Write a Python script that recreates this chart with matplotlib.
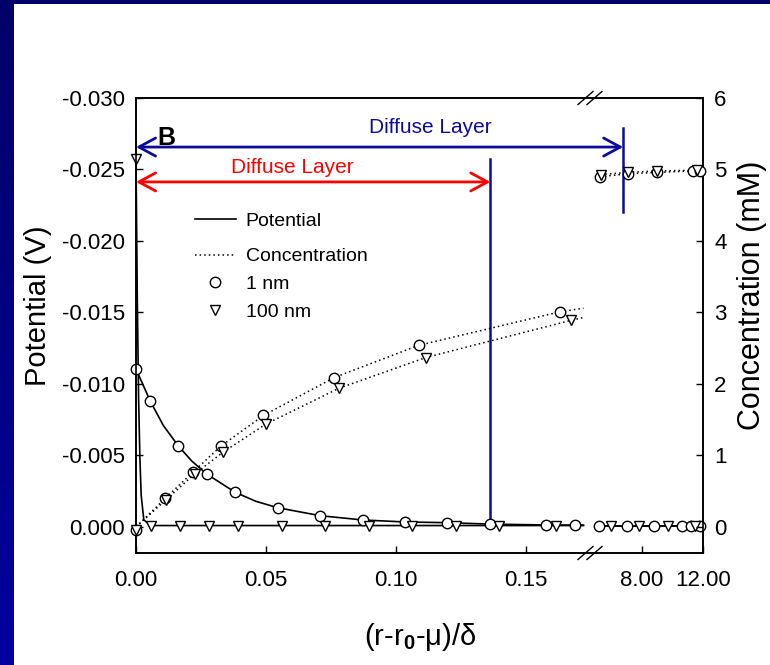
import numpy as np
import matplotlib
matplotlib.use('Agg')
import matplotlib.pyplot as plt
from matplotlib.lines import Line2D
from matplotlib.patches import FancyArrowPatch, ArrowStyle
from matplotlib.ticker import NullLocator, FixedLocator, FixedFormatter
from matplotlib.colors import LinearSegmentedColormap

plt.rcParams['font.family'] = ['Liberation Sans', 'DejaVu Sans']
plt.rcParams['mathtext.fontset'] = 'custom'
plt.rcParams['mathtext.rm'] = 'Liberation Sans'
plt.rcParams['mathtext.bf'] = 'Liberation Sans:bold'
plt.rcParams['mathtext.it'] = 'Liberation Sans:italic'

# ---------------- data ----------------
# Potential, 1 nm (V)
pot1_x = [0, 0.0054, 0.0163, 0.0272, 0.0381, 0.0544, 0.0708, 0.0871, 0.1035,
          0.1197, 0.1359, 0.1577, 0.1686, 5.2, 7.0, 8.8, 10.6, 11.2, 11.8]
pot1_y = [-0.01105, -0.00883, -0.00566, -0.0037, -0.00243, -0.00135, -0.00079,
          -0.00049, -0.00035, -0.0003, -0.0002, -0.00014, -0.00014, -0.00007,
          -0.00007, -0.00007, -0.00007, -0.00007, -0.00007]
pot1_curve_x = [0, 0.0054, 0.0105, 0.0163, 0.0215, 0.0272, 0.0381, 0.046, 0.0544,
                0.0708, 0.0871, 0.1035, 0.1197, 0.1359, 0.1577, 0.172, 5.0, 12.0]
pot1_curve_y = [-0.01105, -0.00883, -0.0071, -0.00566, -0.0046, -0.0037, -0.00243,
                -0.0018, -0.00135, -0.00079, -0.00049, -0.00035, -0.0003, -0.0002,
                -0.00014, -0.00013, -0.00007, -0.00007]

# Potential, 100 nm (V)
pot100_x = [0, 0.0056, 0.0169, 0.0279, 0.0391, 0.056, 0.0727, 0.0894, 0.106,
            0.123, 0.1394, 0.1615, 5.98, 7.8, 9.7, 11.5]
pot100_y = [-0.0257, -0.0001, -0.0001, -0.0001, -0.0001, -0.0001, -0.0001, -0.0001,
            -0.0001, -0.0001, -0.0001, -0.0001, -0.0001, -0.0001, -0.0001, -0.0001]
pot100_curve_x = [0, 0.0005, 0.001, 0.0015, 0.002, 0.003, 0.0056, 0.172, 5.0, 12.0]
pot100_curve_y = [-0.0257, -0.016, -0.009, -0.0048, -0.0022, -0.0005, -0.0001,
                  -0.0001, -0.0001, -0.0001]

# Concentration, 1 nm (mM)
conc1_x = [0, 0.0112, 0.022, 0.0326, 0.049, 0.0762, 0.1086, 0.163,
           5.26, 7.1, 9.0, 11.36, 11.82]
conc1_y = [-0.04, 0.40, 0.77, 1.13, 1.56, 2.09, 2.54, 3.01,
           4.90, 4.94, 4.96, 4.98, 4.98]
conc1_curve_x = [0, 0.0112, 0.022, 0.0326, 0.049, 0.0762, 0.1086, 0.163, 0.1727,
                 5.26, 7.1, 9.0, 11.36, 11.82]
conc1_curve_y = [0, 0.40, 0.77, 1.13, 1.56, 2.09, 2.54, 3.01, 3.06,
                 4.90, 4.94, 4.96, 4.98, 4.98]

# Concentration, 100 nm (mM)
conc100_x = [0, 0.0115, 0.0225, 0.0336, 0.050, 0.078, 0.1114, 0.1672,
             5.3, 7.1, 9.0, 11.6]
conc100_y = [-0.04, 0.38, 0.74, 1.05, 1.44, 1.94, 2.37, 2.89,
             4.93, 4.96, 4.98, 4.99]
conc100_curve_x = [0, 0.0115, 0.0225, 0.0336, 0.050, 0.078, 0.1114, 0.1672, 0.1727,
                   5.3, 7.1, 9.0, 11.6]
conc100_curve_y = [0, 0.38, 0.74, 1.05, 1.44, 1.94, 2.37, 2.89, 2.93,
                   4.93, 4.96, 4.98, 4.99]

# Diffuse layer extents (x)
diffuse_1nm_x = 0.1362
diffuse_100nm_x = 6.77

x_ticks = [0, 0.05, 0.10, 0.15, 8.0, 12.0]
x_ticklabels = ['0.00', '0.05', '0.10', '0.15', '8.00', '12.00']
y_ticks = [-0.030, -0.025, -0.020, -0.015, -0.010, -0.005, 0.000]
y_ticklabels = ['-0.030', '-0.025', '-0.020', '-0.015', '-0.010', '-0.005', '0.000']
y2_ticks = [0, 1, 2, 3, 4, 5, 6]
y2_ticklabels = ['0', '1', '2', '3', '4', '5', '6']

# ---------------- broken x scale ----------------
U_L = 0.172
U_R = 0.1769
K = 0.005865


def fwd(x):
    x = np.asarray(x, dtype=float)
    return np.where(x <= U_L, x,
                    np.where(x >= 5.0, U_R + (x - 5.0) * K,
                             U_L + (x - U_L) * (U_R - U_L) / (5.0 - U_L)))


def inv(u):
    u = np.asarray(u, dtype=float)
    return np.where(u <= U_L, u,
                    np.where(u >= U_R, 5.0 + (u - U_R) / K,
                             U_L + (u - U_L) * (5.0 - U_L) / (U_R - U_L)))


def segments(x, y):
    x = np.asarray(x, float)
    y = np.asarray(y, float)
    m = x < 1.0
    return [(x[m], y[m]), (x[~m], y[~m])]


W, H = 770, 665
fig = plt.figure(figsize=(W / 100, H / 100), dpi=100)
fig.patch.set_facecolor('white')

# slide border (dark blue)
grad = np.linspace(0, 1, 256).reshape(-1, 1)
cmap = LinearSegmentedColormap.from_list('bb', ['#000068', '#0000A0'])
bl = fig.add_axes([0, 0, 14 / W, 1])
bl.imshow(grad, aspect='auto', cmap=cmap, origin='upper')
bl.axis('off')
bt = fig.add_axes([0, 1 - 4 / H, 1, 4 / H])
bt.imshow(np.zeros((1, 2)), aspect='auto', cmap=cmap, vmin=0, vmax=1)
bt.axis('off')

ax = fig.add_axes([136 / W, 1 - 553 / H, 567 / W, 455 / H])
ax.set_xscale('function', functions=(fwd, inv))
ax.set_xlim(0, 12)
ax.set_ylim(0.00182, -0.030)
ax2 = ax.twinx()
ax2.set_ylim(-0.364, 6)

mk = dict(markersize=7.5, markerfacecolor='white', markeredgecolor='black',
          markeredgewidth=1.0, linestyle='none', clip_on=False)

# potential curves
for xs, ys in segments(pot1_curve_x, pot1_curve_y):
    ax.plot(xs, ys, color='black', lw=1.2, zorder=3)
for xs, ys in segments(pot100_curve_x, pot100_curve_y):
    ax.plot(xs, ys, color='black', lw=1.2, zorder=3)
ax.plot(pot1_x, pot1_y, marker='o', zorder=5, **mk)
ax.plot(pot100_x, pot100_y, marker='v', zorder=5, **mk)

# concentration curves
for xs, ys in segments(conc1_curve_x, conc1_curve_y):
    ax2.plot(xs, ys, color='black', lw=1.1, linestyle=(0, (1, 2)), zorder=3)
for xs, ys in segments(conc100_curve_x, conc100_curve_y):
    ax2.plot(xs, ys, color='black', lw=1.1, linestyle=(0, (1, 2)), zorder=3)
ax2.plot(conc1_x, conc1_y, marker='o', zorder=5, **mk)
ax2.plot(conc100_x, conc100_y, marker='v', zorder=5, **mk)

# ticks
ax.xaxis.set_major_locator(FixedLocator(x_ticks))
ax.xaxis.set_major_formatter(FixedFormatter(x_ticklabels))
ax.xaxis.set_minor_locator(NullLocator())
ax.set_yticks(y_ticks)
ax.set_yticklabels(y_ticklabels)
ax2.set_yticks(y2_ticks)
ax2.set_yticklabels(y2_ticklabels)
ax.tick_params(axis='x', direction='in', length=5, width=1, labelsize=16, pad=12,
               top=False)
ax.tick_params(axis='y', direction='in', length=5, width=1, labelsize=16, pad=8)
ax2.tick_params(axis='y', direction='in', length=5, width=1, labelsize=16, pad=8)
for a in (ax, ax2):
    for s in a.spines.values():
        s.set_linewidth(1.2)

# break marks
aw, ah = 567.0, 455.0
for cx in (585.5, 594.5):
    fx = (cx - 136) / aw
    for fy in (0.0, 1.0):
        ax.plot([fx - 7.5 / aw, fx + 7.5 / aw], [fy - 6.5 / ah, fy + 6.5 / ah],
                color='black', lw=1.0, transform=ax.transAxes, clip_on=False,
                zorder=6)

# diffuse layer annotations
blue = '#0C0C9C'
red = '#FF0000'
arr_blue = FancyArrowPatch((0, -0.02657), (diffuse_100nm_x, -0.02657),
                           arrowstyle=ArrowStyle('<->', head_length=12, head_width=6.5),
                           color=blue, lw=2.0, shrinkA=0, shrinkB=0,
                           mutation_scale=1, zorder=7, clip_on=False)
ax.add_patch(arr_blue)
arr_red = FancyArrowPatch((0, -0.02413), (diffuse_1nm_x, -0.02413),
                          arrowstyle=ArrowStyle('<->', head_length=12, head_width=6.5),
                          color=red, lw=2.0, shrinkA=0, shrinkB=0,
                          mutation_scale=1, zorder=7, clip_on=False)
ax.add_patch(arr_red)
ax.plot([diffuse_1nm_x, diffuse_1nm_x], [-0.0257, -0.0002], color=blue, lw=1.8, zorder=4)
ax.plot([diffuse_100nm_x, diffuse_100nm_x], [-0.0279, -0.0220], color=blue, lw=1.8,
        zorder=4)
ax.text(0.113, -0.02758, 'Diffuse Layer', color=blue, fontsize=15,
        ha='center', va='baseline')
ax.text(0.06, -0.02478, 'Diffuse Layer', color=red, fontsize=15,
        ha='center', va='baseline')
fig.text(157 / W, 1 - 145 / H, 'B', fontsize=18, fontweight='bold',
         ha='left', va='baseline')

# legends
h_pot = Line2D([], [], color='black', lw=1.2)
h_conc = Line2D([], [], color='black', lw=1.1, linestyle=(0, (1, 2)))
h_1 = Line2D([], [], marker='o', markersize=7.5, markerfacecolor='white',
             markeredgecolor='black', linestyle='none')
h_100 = Line2D([], [], marker='v', markersize=7.5, markerfacecolor='white',
               markeredgecolor='black', linestyle='none')
leg1 = fig.legend([h_pot, h_conc], ['Potential', 'Concentration'],
                  loc='upper left', bbox_to_anchor=(195 / W, 1 - 212 / H),
                  frameon=False, fontsize=14, handlelength=2.1, handletextpad=0.5,
                  labelspacing=0.93, borderpad=0, borderaxespad=0)
leg2 = fig.legend([h_1, h_100], ['1 nm', '100 nm'],
                  loc='upper left', bbox_to_anchor=(195 / W, 1 - 275 / H),
                  frameon=False, fontsize=14, handlelength=2.1, handletextpad=0.5,
                  labelspacing=0.55, borderpad=0, borderaxespad=0)

# axis labels
fig.text(38 / W, 1 - 306 / H, 'Potential (V)', fontsize=21, rotation=90,
         ha='center', va='center')
fig.text(752 / W, 1 - 295 / H, 'Concentration (mM)', fontsize=22, rotation=90,
         ha='center', va='center')
fig.text(420 / W, 1 - 637 / H, '(r-r$_{\\mathbf{0}}$-μ)/δ', fontsize=21,
         ha='center', va='center')

fig.savefig('out.png', dpi=100, facecolor='white')
